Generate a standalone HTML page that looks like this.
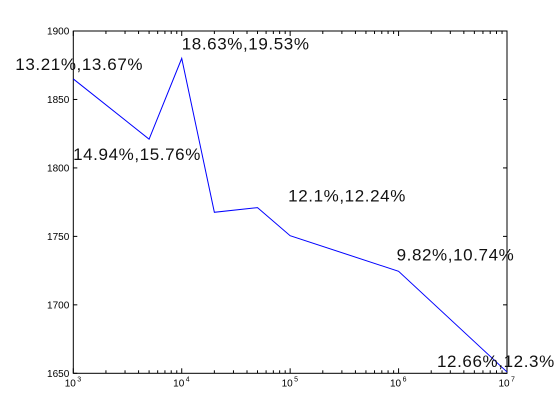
<!DOCTYPE html>
<html><head><meta charset="utf-8"><style>
html,body{margin:0;padding:0;background:#fff}
svg{display:block;font-family:"Liberation Sans",sans-serif}
</style></head><body>
<svg id="chart" width="560" height="419" viewBox="0 0 560 419"></svg>
<script>
const xValues=[1e3,5e3,1e4,2e4,5e4,1e5,1e6,1e7];
const yValues=[1865,1821,1880,1767.6,1771,1750.5,1724.5,1651];
const yTicks=[1650,1700,1750,1800,1850,1900];
const xTickExps=[3,4,5,6,7];
const annotations=[
 {text:"13.21%,13.67%",x:1e3,y:1865},
 {text:"18.63%,19.53%",x:1e4,y:1880},
 {text:"14.94%,15.76%",x:5e3,y:1821},
 {text:"12.1%,12.24%",x:1e5,y:1750.5},
 {text:"9.82%,10.74%",x:1e6,y:1724.5},
 {text:"12.66%,12.3%",x:1e7,y:1651}
];
const annotationOffsets=[[-58,-9],[0,-9],[-76,21],[-2,-34],[-2,-11],[-70,-5]];
const L=73.3,R=507,T=31,B=373.3;
const xs=v=>L+(Math.log10(v)-3)/4*(R-L);
const ys=v=>B-(v-1650)/250*(B-T);
const svg=document.getElementById('chart');
const NS='http://www.w3.org/2000/svg';
function mk(tag,attrs,parent){const e=document.createElementNS(NS,tag);for(const k in attrs)e.setAttribute(k,attrs[k]);(parent||svg).appendChild(e);return e;}
const frame=mk('rect',{x:L,y:T,width:R-L,height:B-T,fill:'none',stroke:'#000','stroke-width':1});


const ticks=mk('g',{stroke:'#000','stroke-width':1});


yTicks.forEach(v=>{const y=ys(v);
 mk('line',{x1:L,y1:y,x2:L+4,y2:y},ticks);mk('line',{x1:R,y1:y,x2:R-4,y2:y},ticks);
 const t=mk('text',{x:L-4,y:y+3.5,'text-anchor':'end','font-size':10,fill:'#000'});t.textContent=v;
 
 
});
xTickExps.forEach((e,i)=>{const x=xs(Math.pow(10,e));
 mk('line',{x1:x,y1:B,x2:x,y2:B-5},ticks);mk('line',{x1:x,y1:T,x2:x,y2:T+5},ticks);
 if(i<xTickExps.length-1){for(let m=2;m<10;m++){const xm=xs(m*Math.pow(10,e));
  mk('line',{x1:xm,y1:B,x2:xm,y2:B-3},ticks);mk('line',{x1:xm,y1:T,x2:xm,y2:T+3},ticks);}}
 const t=mk('text',{x:x-3,y:B+13,'text-anchor':'middle','font-size':10,fill:'#000'});
 t.textContent='10';
 
 
 const s=mk('text',{x:x+4,y:B+8,'font-size':7,fill:'#000'});s.textContent=e;
 
 
});
const line=mk('polyline',{points:xValues.map((v,i)=>xs(v)+','+ys(yValues[i])).join(' '),fill:'none',stroke:'#0000ff','stroke-width':1});


annotations.forEach((a,i)=>{
 const t=mk('text',{x:xs(a.x)+annotationOffsets[i][0],y:ys(a.y)+annotationOffsets[i][1],'font-size':17,'letter-spacing':0.6,fill:'#111'});
 t.textContent=a.text;
 
 
});
</script>
</body></html>
